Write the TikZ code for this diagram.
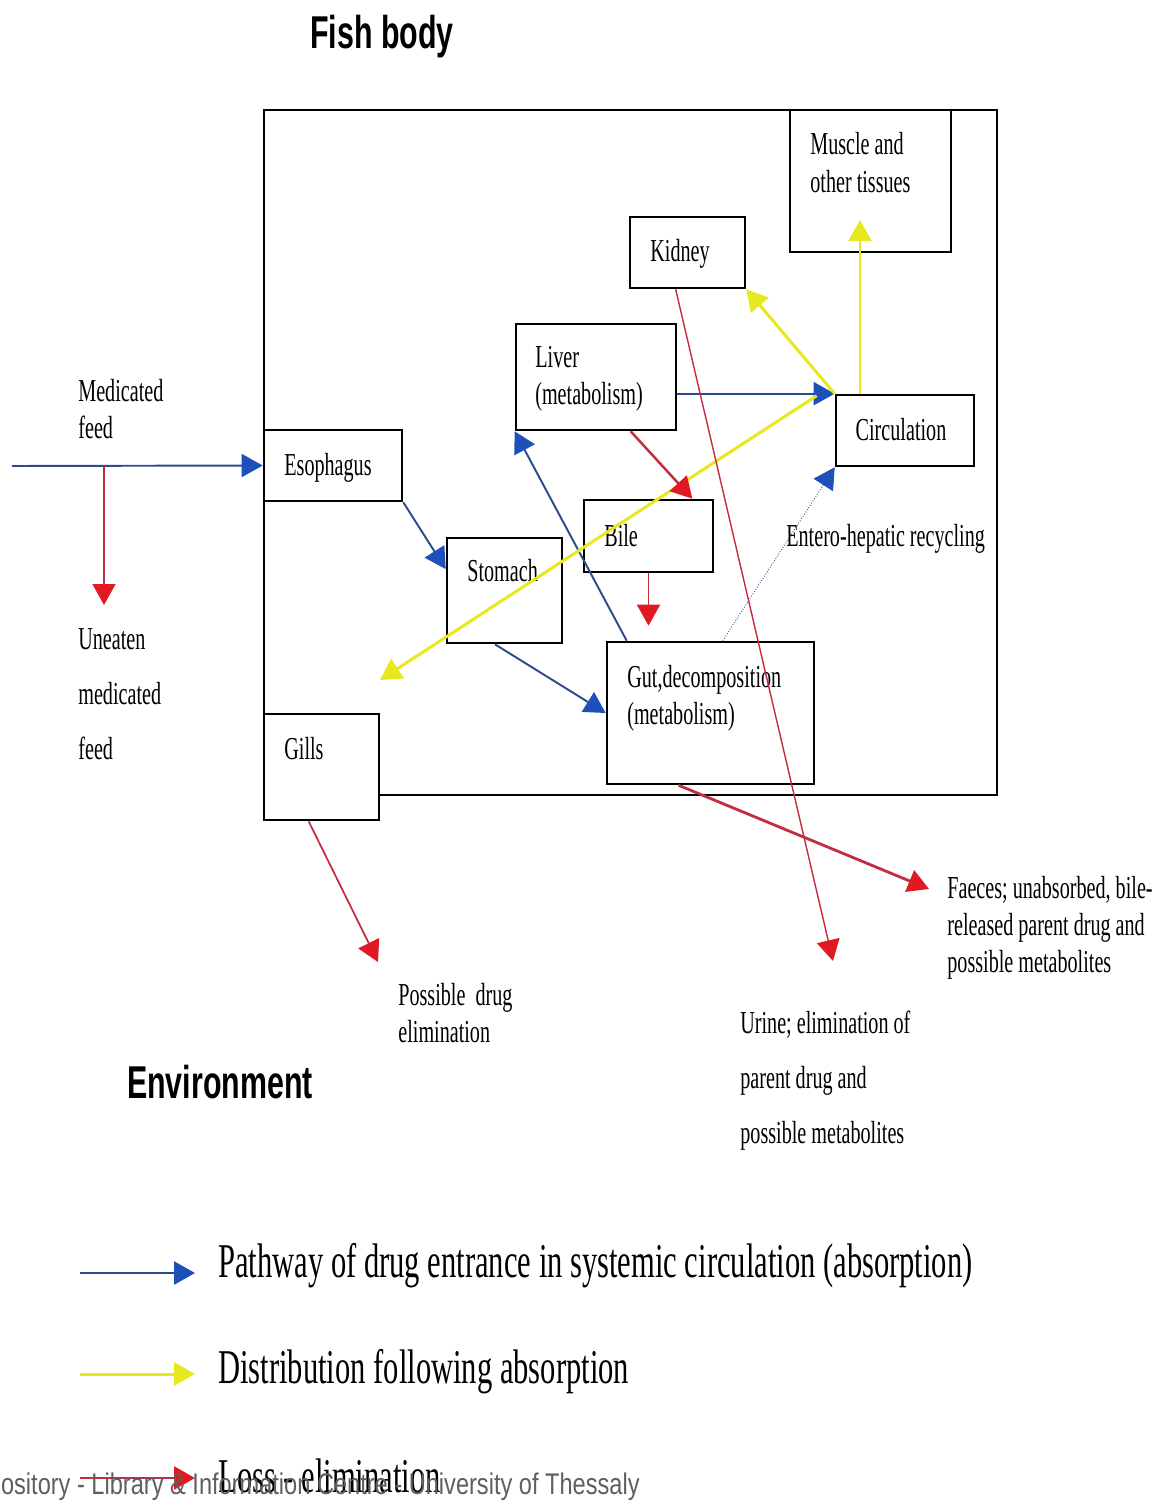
\documentclass[tikz,border=0pt]{standalone}
\usepackage{fontspec}
\setmainfont{Liberation Serif}[FakeStretch=0.63]
\newfontfamily\headfont{Liberation Sans}[FakeStretch=0.66]
\newfontfamily\markfont{Liberation Sans}[FakeStretch=0.79]
\usetikzlibrary{arrows.meta,calc,fit}
\definecolor{fishblue}{RGB}{30,80,185}
\definecolor{fishline}{RGB}{45,75,140}
\definecolor{fishyellow}{RGB}{232,232,30}
\definecolor{fishred}{RGB}{225,25,35}
\definecolor{fishredline}{RGB}{195,45,65}
\definecolor{markgray}{RGB}{95,95,95}

\begin{document}
\begin{tikzpicture}[x=0.02cm,y=-0.02cm,
    box/.style={draw,line width=1.5pt,inner sep=0pt,fill=white},
    lbl/.style={inner sep=0pt,anchor=base west,font=\fontsize{18.2}{22}\selectfont},
    leg/.style={inner sep=0pt,anchor=base west,font=\fontsize{27.6}{32}\selectfont},
    head/.style={inner sep=0pt,anchor=base,font=\headfont\bfseries\fontsize{26.2}{30}\selectfont},
    tip/.style={-{Triangle[length=0.42cm,width=0.46cm,color=#1]}},
    absorb/.style={draw=fishline,line width=1.1pt,tip=fishblue},
    distrib/.style={draw=fishyellow,line width=1.7pt,tip=fishyellow},
    loss/.style={draw=fishredline,line width=1pt,tip=fishred}]
    \useasboundingbox (0,0) rectangle (1158,1500);

    % fish body and organs
    \node[box,fit={(264,110) (997,795)}] (body) {};
    \node[box,fit={(790,110) (951,252)}] (muscle) {};
    \node[box,fit={(630,217) (745,288)}] (kidney) {};
    \node[box,fit={(516,324) (676,430)}] (liver) {};
    \node[box,fit={(836,395) (974,466)}] (circ) {};
    \node[box,fit={(264,430) (402,501)}] (esoph) {};
    \node[box,fit={(584,500) (713,572)}] (bile) {};
    \node[box,fit={(447,538) (562,643)}] (stom) {};
    \node[box,fit={(607,642) (814,784)}] (gut) {};
    \node[box,fit={(264,714) (379,820)}] (gills) {};

    \foreach \t [count=\i] in {Muscle and,other tissues}
        \node[lbl] (muscle\i) at (810,117+38*\i) {\t};
    \node[lbl,anchor=base] (kidneytxt) at (680,262) {Kidney};
    \foreach \t [count=\i] in {Liver,(metabolism)}
        \node[lbl] (liver\i) at (535,330+37*\i) {\t};
    \node[lbl,anchor=base] (circtxt) at (901,440) {Circulation};
    \node[lbl] (esophtxt) at (284,475) {Esophagus};
    \node[lbl] (biletxt) at (604,546) {Bile};
    \node[lbl] (stomtxt) at (467,581) {Stomach};
    \foreach \t [count=\i] in {{Gut,decomposition},(metabolism)}
        \node[lbl] (gut\i) at (627,650+37*\i) {\t};
    \node[lbl] (gillstxt) at (284,759) {Gills};

    % outside labels
    \foreach \t [count=\i] in {Medicated,feed}
        \node[lbl] (feed\i) at (78,364+37*\i) {\t};
    \foreach \t [count=\i] in {Uneaten,medicated,feed}
        \node[lbl] (uneaten\i) at (78,594+55*\i) {\t};
    \node[lbl] (recycle) at (786,546) {Entero-hepatic recycling};
    \foreach \t [count=\i] in {{Faeces; unabsorbed, bile-},released parent drug and,possible metabolites}
        \node[lbl] (faeces\i) at (947,861+37*\i) {\t};
    \foreach \t [count=\i] in {Possible\ \ drug,elimination}
        \node[lbl] (gillsout\i) at (398,968+37*\i) {\t};
    \foreach \t [count=\i] in {Urine; elimination of,parent drug and,possible metabolites}
        \node[lbl] (urine\i) at (740,978+55*\i) {\t};
    \node[head] (fishbody) at (382,49) {Fish body};
    \node[head] (environment) at (220,1098) {Environment};

    % absorption
    \coordinate (feedin) at (12,466);
    \coordinate (feedsplit) at (104,466);
    \draw[absorb] (feedin) -- (esoph.west);
    \draw[absorb] (esoph.south east) -- (stom.160);
    \draw[absorb] (stom.260) -- (gut.west);
    \draw[absorb] ($(gut.north west)+(21,0)$) -- (liver.south west);
    \draw[absorb] (liver.east |- circ.north west) -- (circ.north west);
    \draw[absorb,line width=0.5pt,densely dotted] ($(gut.north west)+(117,0)$) -- (circ.south west);

    % distribution
    \coordinate (musctip) at (860,220);
    \coordinate (disttip) at (380,680);
    \draw[distrib,line width=1pt] (musctip |- circ.north) -- (musctip);
    \draw[distrib] (circ.north west) -- (kidney.south east);
    \draw[distrib] ($(circ.north west)+(-18,2)$) -- (disttip);

    % loss
    \coordinate (uneatentip) at (104,605);
    \coordinate (gillstip) at (378,962);
    \coordinate (urinetip) at (833,961);
    \coordinate (faecestip) at (929,889);
    \draw[loss] (feedsplit) -- (uneatentip);
    \draw[loss,line width=1.4pt] ($(liver.south west)+(116,0)$) -- ($(bile.north east)+(-22,0)$);
    \draw[loss,shorten >=0.3cm] (bile.south) -- (bile.south |- gut.north);
    \draw[loss,line width=0.8pt] ($(kidney.south west)+(47,0)$) -- (urinetip);
    \draw[loss,line width=1.6pt] ($(gut.south west)+(73,0)$) -- (faecestip);
    \draw[loss] ($(gills.south west)+(46,0)$) -- (gillstip);

    % legend
    \node[leg] (leg1) at (218,1277) {Pathway of drug entrance in systemic circulation (absorption)};
    \node[leg] (leg2) at (218,1383) {Distribution following absorption};
    \node[leg] (leg3) at (218,1492) {Loss - elimination};
    \coordinate (legstart1) at (80,1273);
    \coordinate (legstart2) at (80,1374);
    \coordinate (legstart3) at (80,1478);
    \draw[absorb,line width=1.6pt] (legstart1) -- ++(115,0);
    \draw[distrib] (legstart2) -- ++(115,0);
    \draw[loss,line width=1.6pt] (legstart3) -- ++(115,0);

    \node[inner sep=0pt,anchor=base east,text=markgray,font=\markfont\fontsize{17}{20}\selectfont] (mark) at (640,1494)
        {ository - Library \& Information Centre - University of Thessaly};
\end{tikzpicture}
\end{document}
